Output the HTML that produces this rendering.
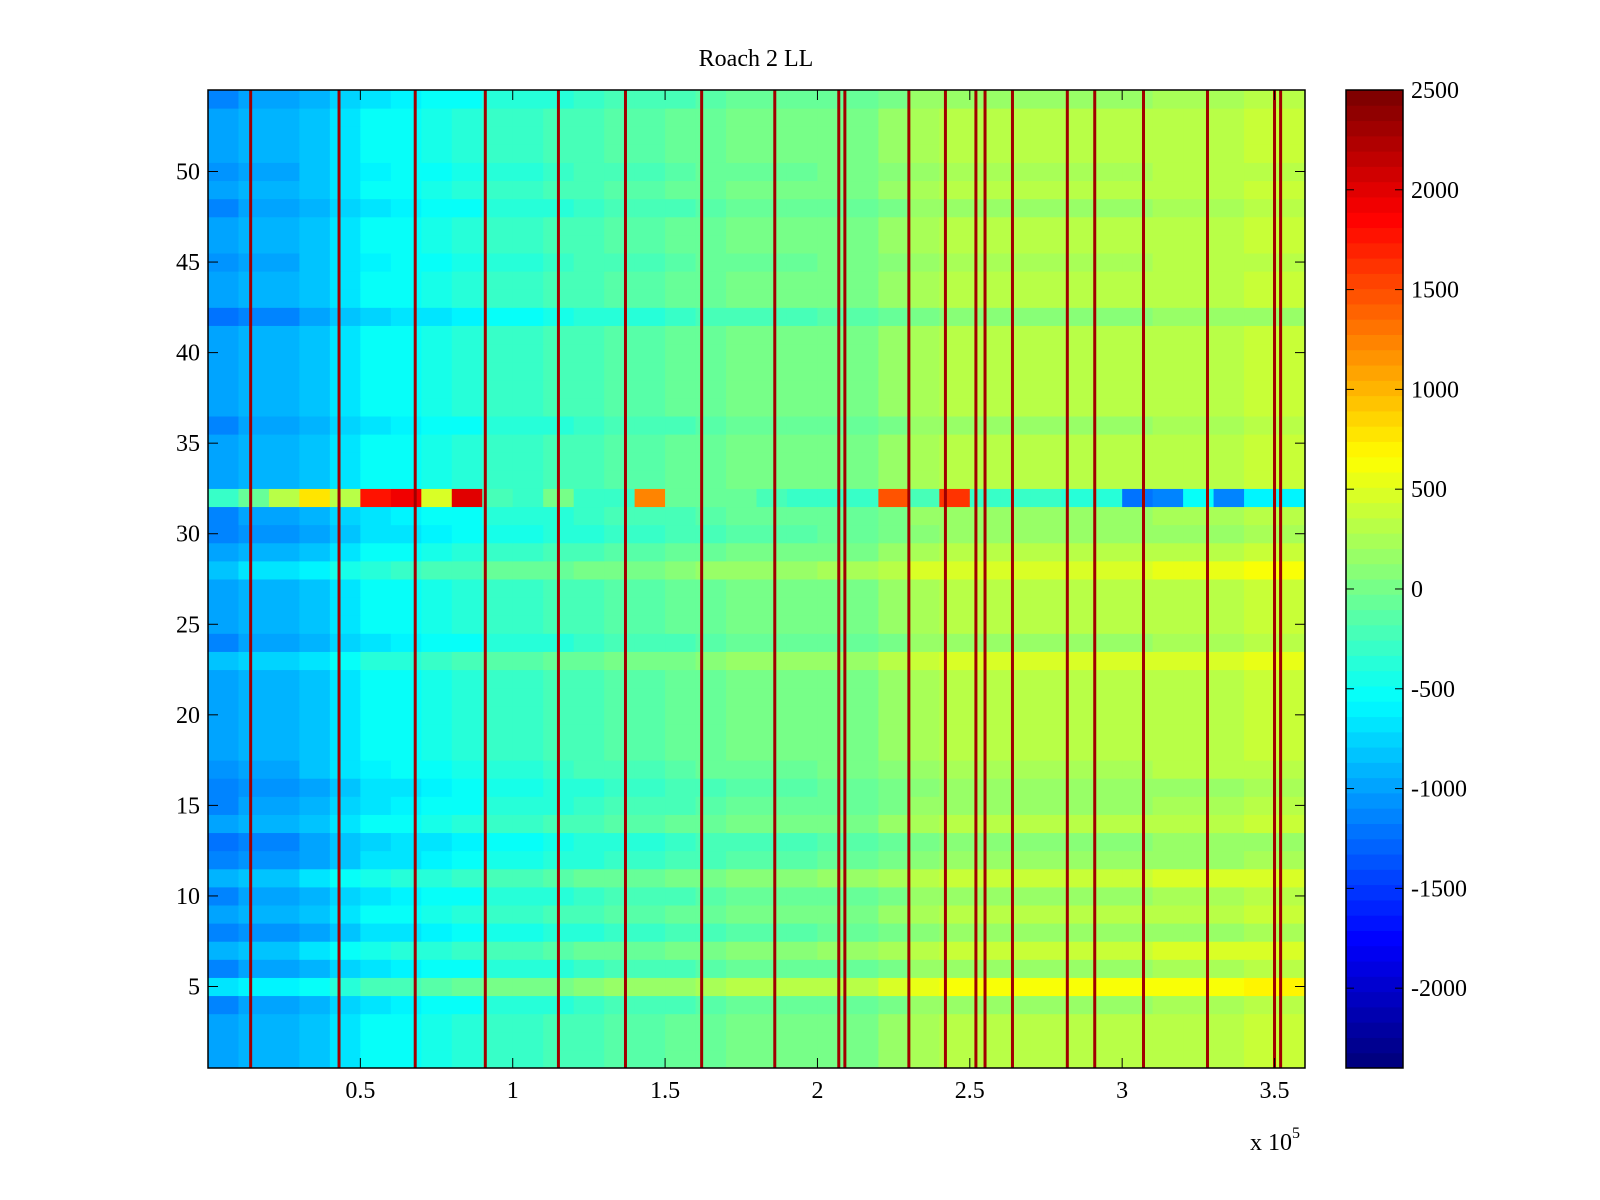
<!DOCTYPE html>
<html><head><meta charset="utf-8"><style>
body{margin:0;background:#fff;}
svg{display:block;font-family:"Liberation Serif",serif;}
</style></head><body>
<svg id="chart" width="1600" height="1200" xmlns="http://www.w3.org/2000/svg">
<text x="756" y="66" font-size="24" text-anchor="middle">Roach 2 LL</text>
<g id="cells"></g>
<g id="stripes"></g>
<rect x="208" y="90" width="1097" height="978" fill="none" stroke="#000" stroke-width="1.5"/>
<g id="xaxis"></g>
<g id="yaxis"></g>
<text x="1250" y="1150" font-size="24">x 10<tspan dy="-12" font-size="16">5</tspan></text>
<g id="cbar"></g>
</svg>
<script>
// data (values in counts; x in units of 1e4)
const colBase = [-1000,-900,-900,-800,-650,-550,-500,-450,-400,-300,-300,-250,-200,-150,-150,-100,-50,0,0,0,50,50,150,250,300,300,300,300,300,300,300,350,350,350,400,400];
const rowOff = [0,0,0,-100,300,-100,100,-150,0,-100,100,-150,-200,0,-100,-150,-50,0,0,0,0,0,150,-100,0,0,0,200,0,-150,-100,0,0,0,0,-100,0,0,0,0,0,-200,0,0,-50,0,0,-100,0,-50,0,0,0,-100];
const row32 = [-300,-100,300,800,300,1800,1900,500,2000,-200,-300,0,-300,-300,1200,-100,-100,-100,-200,-300,-300,-300,1500,-200,1600,-300,-300,-300,-400,-400,-1200,-1100,-500,-1100,-600,-600];
const stripeX = [0.14,0.43,0.68,0.91,1.15,1.37,1.62,1.86,2.07,2.09,2.30,2.42,2.52,2.55,2.64,2.82,2.91,3.07,3.28,3.50,3.52];
const xTicks = [0.5,1,1.5,2,2.5,3,3.5];
const xTickLabels = ["0.5","1","1.5","2","2.5","3","3.5"];
const yTicks = [5,10,15,20,25,30,35,40,45,50];
const cbTicks = [2500,2000,1500,1000,500,0,-500,-1000,-1500,-2000];

const NS="http://www.w3.org/2000/svg";
const X0=208,X1=1305,Y0=90,Y1=1068;
const xmax=3.6, vmin=-2400, vmax=2500;
const xs=v=>X0+(v/xmax)*(X1-X0);          // v in 1e5
const ys=r=>Y1-(r-0.5)/54*(Y1-Y0);        // row coordinate
function jet(t){t=Math.max(0,Math.min(1,t));t=Math.floor(t*63.999)/63;
 const f=x=>Math.round(255*Math.max(0,Math.min(1,1.5-Math.abs(4*t-x))));
 return `rgb(${f(3)},${f(2)},${f(1)})`;}
const col=v=>jet((v-vmin)/(vmax-vmin));
function mk(tag,attrs,parent){const e=document.createElementNS(NS,tag);for(const k in attrs)e.setAttribute(k,attrs[k]);parent.appendChild(e);return e;}

const cells=document.getElementById('cells');
for(let r=1;r<=54;r++){
 for(let c=0;c<colBase.length;c++){
  let v = r===32 ? row32[c] : colBase[c]+rowOff[r-1];
  const x=xs(c/10), w=xs((c+1)/10)-x;
  const e=mk('rect',{x:x.toFixed(2),y:ys(r+0.5).toFixed(2),width:(w+0.5).toFixed(2),height:(ys(r-0.5)-ys(r+0.5)+0.5).toFixed(2),fill:col(v)},cells);
  
  
 }
}
const st=document.getElementById('stripes');
stripeX.forEach(s=>{
 const e=mk('rect',{x:(xs(s)-1.5).toFixed(2),y:Y0,width:3,height:Y1-Y0,fill:col(2300)},st);
 
 
});
const xa=document.getElementById('xaxis');
xTicks.forEach((t,i)=>{
 const x=xs(t);
 mk('line',{x1:x,x2:x,y1:Y1,y2:Y1-10,stroke:'#000'},xa);
 mk('line',{x1:x,x2:x,y1:Y0,y2:Y0+10,stroke:'#000'},xa);
 const e=mk('text',{x:x,y:1098,'font-size':24,'text-anchor':'middle'},xa);e.textContent=xTickLabels[i];
 
 
});
const ya=document.getElementById('yaxis');
yTicks.forEach(t=>{
 const y=ys(t);
 mk('line',{x1:X0,x2:X0+10,y1:y,y2:y,stroke:'#000'},ya);
 mk('line',{x1:X1,x2:X1-10,y1:y,y2:y,stroke:'#000'},ya);
 const e=mk('text',{x:200,y:y+8,'font-size':24,'text-anchor':'end'},ya);e.textContent=t;
 
 
});
const cb=document.getElementById('cbar');
const CX0=1346,CX1=1403;
for(let i=0;i<64;i++){
 const y0=Y1-(i+1)/64*(Y1-Y0), y1=Y1-i/64*(Y1-Y0);
 mk('rect',{x:CX0,y:y0.toFixed(2),width:CX1-CX0,height:(y1-y0+0.5).toFixed(2),fill:jet((i+0.5)/64)},cb);
}
mk('rect',{x:CX0,y:Y0,width:CX1-CX0,height:Y1-Y0,fill:'none',stroke:'#000','stroke-width':1.5},cb);
cbTicks.forEach(t=>{
 const y=Y1-(t-vmin)/(vmax-vmin)*(Y1-Y0);
 mk('line',{x1:CX0,x2:CX0+8,y1:y,y2:y,stroke:'#000'},cb);
 mk('line',{x1:CX1,x2:CX1-8,y1:y,y2:y,stroke:'#000'},cb);
 const e=mk('text',{x:1411,y:y+8,'font-size':24},cb);e.textContent=t;
 
 
});
</script>
</body></html>
